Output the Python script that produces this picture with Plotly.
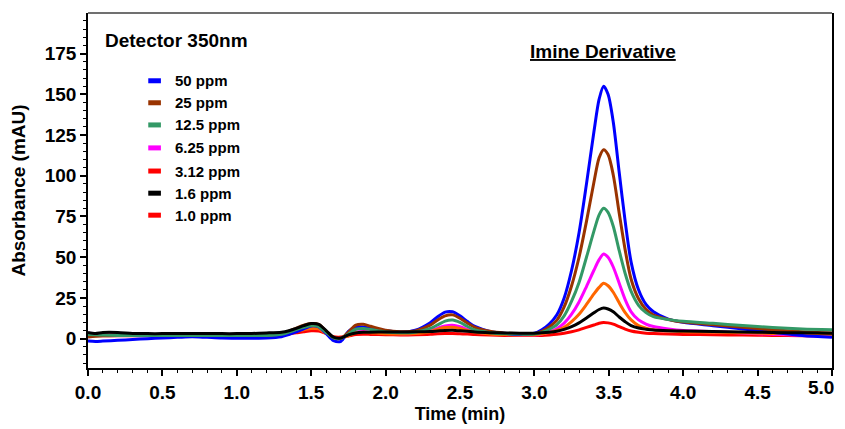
import plotly.graph_objects as go

# ---------------- data ----------------
time_min = [0.0, 0.05, 0.1, 0.2, 0.3, 0.4, 0.5, 0.6, 0.7, 0.8,
            0.9, 1.0, 1.1, 1.2, 1.3, 1.35, 1.4, 1.45, 1.5, 1.55,
            1.6, 1.65, 1.7, 1.75, 1.8, 1.85, 1.9, 2.0, 2.1, 2.2,
            2.3, 2.35, 2.4, 2.45, 2.5, 2.55, 2.6, 2.7, 2.8, 2.9,
            3.0, 3.05, 3.1, 3.15, 3.2, 3.25, 3.3, 3.35, 3.4, 3.435,
            3.465, 3.495, 3.53, 3.57, 3.61, 3.65, 3.7, 3.75, 3.8, 3.9,
            4.0, 4.2, 4.4, 4.6, 4.8, 5.0]

ppm_50 = [-1.5, -1.7, -1.5, -1.0, -0.5, 0, 0.4, 0.8, 1.2, 0.8,
          0.4, 0.3, 0.3, 0.4, 1.2, 2.5, 4.2, 6.0, 7.8, 7.2,
          3.2, -1.2, -1.6, 4.5, 7.2, 7.2, 6.3, 5.0, 4.0, 5.2,
          9.8, 13.5, 16.3, 16.5, 14, 10.5, 7.5, 4.5, 3.3, 2.5,
          3.3, 5.5, 9, 14.5, 25, 42, 65, 95, 127, 147,
          155, 150, 133, 102, 72, 47, 30, 21, 16.5, 12,
          10, 8, 6, 4, 2, 0.8]

ppm_25 = [1.0, 1.5, 1.8, 2.0, 2.0, 2.0, 2.0, 2.0, 2.0, 2.0,
          2.0, 2.0, 2.0, 2.2, 3.2, 4.6, 6.5, 8.3, 9.3, 8.8,
          4.8, 0.6, 0.2, 4, 8.3, 8.8, 7.6, 5.2, 4.3, 4.8,
          8.3, 11.5, 14, 14.6, 12.5, 9.5, 7, 4.5, 3.4, 3.0,
          3.0, 4.5, 7.2, 11.2, 19.5, 32.5, 50, 72, 96, 111,
          116, 113, 100.5, 77, 54.5, 36.5, 24.5, 18, 14.5, 11.8,
          10.2, 8.6, 7, 5.5, 4.3, 3.5]

ppm_12_5 = [2.6, 2.4, 2.2, 2.0, 1.9, 1.9, 1.9, 1.9, 1.9, 1.9,
            1.9, 1.9, 1.9, 2.0, 2.7, 4.0, 5.6, 7.0, 8.0, 7.4,
            3.8, 0.5, 0.2, 2.8, 5.8, 6.3, 5.6, 4.1, 3.6, 4.0,
            6.3, 8.5, 10.8, 11.5, 10, 7.5, 5.3, 3.7, 3.0, 2.8,
            2.8, 3.9, 5.8, 8.5, 14, 23, 34.5, 50, 66, 76,
            80, 77.5, 69, 54, 40, 29, 20.5, 16, 13.5, 11.7,
            10.7, 9.4, 8.1, 6.9, 6, 5.5]

ppm_6_25 = [3.3, 3.1, 2.8, 2.6, 2.4, 2.3, 2.3, 2.3, 2.3, 2.3,
            2.3, 2.3, 2.3, 2.3, 2.8, 3.8, 4.9, 6.0, 6.8, 6.4,
            3.5, 0.5, 0.2, 2.0, 4.0, 4.4, 4.0, 3.3, 3.0, 3.3,
            4.8, 6.5, 7.8, 8.2, 7.3, 5.7, 4.3, 3.1, 2.6, 2.3,
            2.3, 2.9, 4.1, 6, 9.5, 15, 22.5, 32, 42, 48.5,
            52, 50, 44, 34, 24, 16.5, 11.5, 9, 7.5, 6,
            5, 4.3, 3.5, 2.7, 2, 1.5]

ppm_3_12 = [2.2, 2.2, 2.2, 2.2, 2.2, 2.2, 2.2, 2.2, 2.2, 2.2,
            2.2, 2.2, 2.2, 2.2, 2.7, 3.6, 4.6, 5.5, 6.3, 6.0,
            3.2, 0.5, 0.3, 1.8, 3.6, 4.0, 3.7, 3.0, 2.8, 3.1,
            4.3, 5.8, 6.8, 7, 6.3, 5, 3.9, 2.9, 2.5, 2.3,
            2.3, 2.9, 3.7, 5, 7, 10.5, 15, 21, 27.5, 31.5,
            34, 32.5, 28.5, 22, 16, 11.5, 8, 6.5, 5.5, 4.8,
            4.3, 4, 3.6, 3.2, 2.9, 2.6]

ppm_1_6 = [3.8, 3.2, 3.8, 3.8, 3.2, 3.1, 3.1, 3.1, 3.1, 3.1,
           3.1, 3.1, 3.2, 3.5, 4.0, 4.9, 6.3, 8.0, 9.3, 8.8,
           5.0, 0.9, 0.4, 2.3, 3.5, 3.9, 4.0, 4.1, 4.1, 4.2,
           4.4, 4.7, 5.0, 5.1, 4.8, 4.5, 4.1, 3.7, 3.5, 3.4,
           3.4, 3.6, 4.0, 4.6, 5.7, 7.4, 9.7, 12.7, 15.9, 17.9,
           18.8, 18.2, 16.5, 13.3, 10.4, 8, 6.5, 5.8, 5.3, 4.9,
           4.7, 4.4, 4.1, 3.8, 3.6, 3.4]

ppm_1_0 = [1.8, 1.8, 1.8, 1.8, 1.8, 1.8, 1.8, 1.8, 1.8, 1.8,
           1.8, 1.8, 1.8, 1.8, 2.2, 2.9, 3.6, 4.3, 4.9, 4.7,
           3.2, 1.2, 1.0, 1.7, 2.5, 2.7, 2.6, 2.4, 2.3, 2.4,
           2.7, 3.0, 3.2, 3.2, 3.0, 2.8, 2.5, 2.2, 2.0, 1.9,
           1.9, 2.0, 2.3, 2.7, 3.3, 4.2, 5.4, 6.9, 8.4, 9.5,
           10, 9.7, 8.9, 7.4, 5.9, 4.7, 3.9, 3.4, 3.1, 2.8,
           2.6, 2.4, 2.2, 2, 1.8, 1.6]

legend_labels = ["50 ppm", "25 ppm", "12.5 ppm", "6.25 ppm", "3.12 ppm", "1.6 ppm", "1.0 ppm"]
legend_colors = ["#0000FF", "#993300", "#339966", "#FF00FF", "#FF0000", "#000000", "#FF0000"]

series = {
    "50 ppm": ppm_50, "25 ppm": ppm_25, "12.5 ppm": ppm_12_5, "6.25 ppm": ppm_6_25,
    "3.12 ppm": ppm_3_12, "1.6 ppm": ppm_1_6, "1.0 ppm": ppm_1_0,
}
trace_colors = {
    "50 ppm": "#0000FF", "25 ppm": "#993300", "12.5 ppm": "#339966", "6.25 ppm": "#FF00FF",
    "3.12 ppm": "#FF6600", "1.6 ppm": "#000000", "1.0 ppm": "#FF0000",
}
draw_order = ["1.0 ppm", "6.25 ppm", "3.12 ppm", "50 ppm", "25 ppm", "12.5 ppm", "1.6 ppm"]

x_ticks = [0.0, 0.5, 1.0, 1.5, 2.0, 2.5, 3.0, 3.5, 4.0, 4.5, 5.0]
y_ticks = [0, 25, 50, 75, 100, 125, 150, 175]

# ---------------- figure ----------------
FONT = "Liberation Sans, Arial, sans-serif"
TICKFONT = dict(family=FONT, size=19, color="black", weight="bold")
fig = go.Figure()
for name in draw_order:
    fig.add_trace(go.Scatter(
        x=time_min, y=series[name], mode="lines", name=name,
        line=dict(color=trace_colors[name], width=3, shape="spline", smoothing=0.8),
        showlegend=False, hoverinfo="skip"))

# manual legend (colors as in the reference legend)
leg_x0, leg_x1, leg_tx = 0.405, 0.49, 0.57
leg_y = [158.3, 144.8, 131.2, 117.1, 102.9, 89.3, 75.8]
for lab, col, yy in zip(legend_labels, legend_colors, leg_y):
    fig.add_shape(type="line", xref="x", yref="y", x0=leg_x0, x1=leg_x1, y0=yy, y1=yy,
                  line=dict(color=col, width=5))
    fig.add_annotation(x=leg_tx, y=yy, xref="x", yref="y", text=lab, showarrow=False,
                       xanchor="left", yanchor="middle",
                       font=dict(family=FONT, size=15, color="black", weight="bold"))

fig.add_annotation(x=0.1, y=183, xref="x", yref="y", text="Detector 350nm", showarrow=False,
                   xanchor="left", yanchor="middle",
                   font=dict(family=FONT, size=19, color="black", weight="bold"))
fig.add_annotation(x=2.96, y=176.5, xref="x", yref="y", text="<u>Imine Derivative</u>", showarrow=False,
                   xanchor="left", yanchor="middle",
                   font=dict(family=FONT, size=19, color="black", weight="bold"))

# last x tick label drawn as an annotation, kept inside the window
last_tick = x_ticks[-1]
tick_text = [f"{v:.1f}" for v in x_ticks[:-1]] + [""]
fig.add_annotation(x=last_tick, y=0, xref="x", yref="paper", text=f"{last_tick:.1f}",
                   showarrow=False, xanchor="right", yanchor="top", yshift=-7, xshift=4,
                   font=TICKFONT)

# grey top border
fig.add_shape(type="line", xref="paper", yref="paper", x0=0, x1=1, y0=1, y1=1,
              line=dict(color="#707070", width=2))

# the page places the figure 8 px from the top-left corner, so the
# figure is sized to end at the window edge
fig.update_layout(
    width=837, height=421,
    margin=dict(l=80, r=13, t=5, b=61),
    paper_bgcolor="white", plot_bgcolor="white",
    font=dict(family=FONT, color="black"),
)
fig.update_xaxes(
    automargin=False,
    range=[0, 5], tickvals=x_ticks, ticktext=tick_text,
    ticks="outside", ticklen=6, tickwidth=1.5, tickcolor="black",
    minor=dict(dtick=0.1, tick0=0, ticks="outside", ticklen=3, tickcolor="black", tickwidth=1),
    showline=True, linecolor="black", linewidth=1.5, mirror=False,
    showgrid=False, zeroline=False,
    tickfont=TICKFONT,
    title=dict(text="Time (min)", standoff=6,
               font=dict(family=FONT, size=18, color="black", weight="bold")),
)
fig.update_yaxes(
    automargin=False,
    range=[-18, 199.9], tickvals=y_ticks,
    ticks="outside", ticklen=6, tickwidth=1.5, tickcolor="black",
    minor=dict(dtick=5, tick0=0, ticks="outside", ticklen=3, tickcolor="black", tickwidth=1),
    showline=True, linecolor="black", linewidth=1.5, mirror=True,
    showgrid=False, zeroline=False,
    tickfont=TICKFONT,
    title=dict(text="Absorbance (mAU)", standoff=14,
               font=dict(family=FONT, size=19, color="black", weight="bold")),
)

fig.write_html("out.html")
